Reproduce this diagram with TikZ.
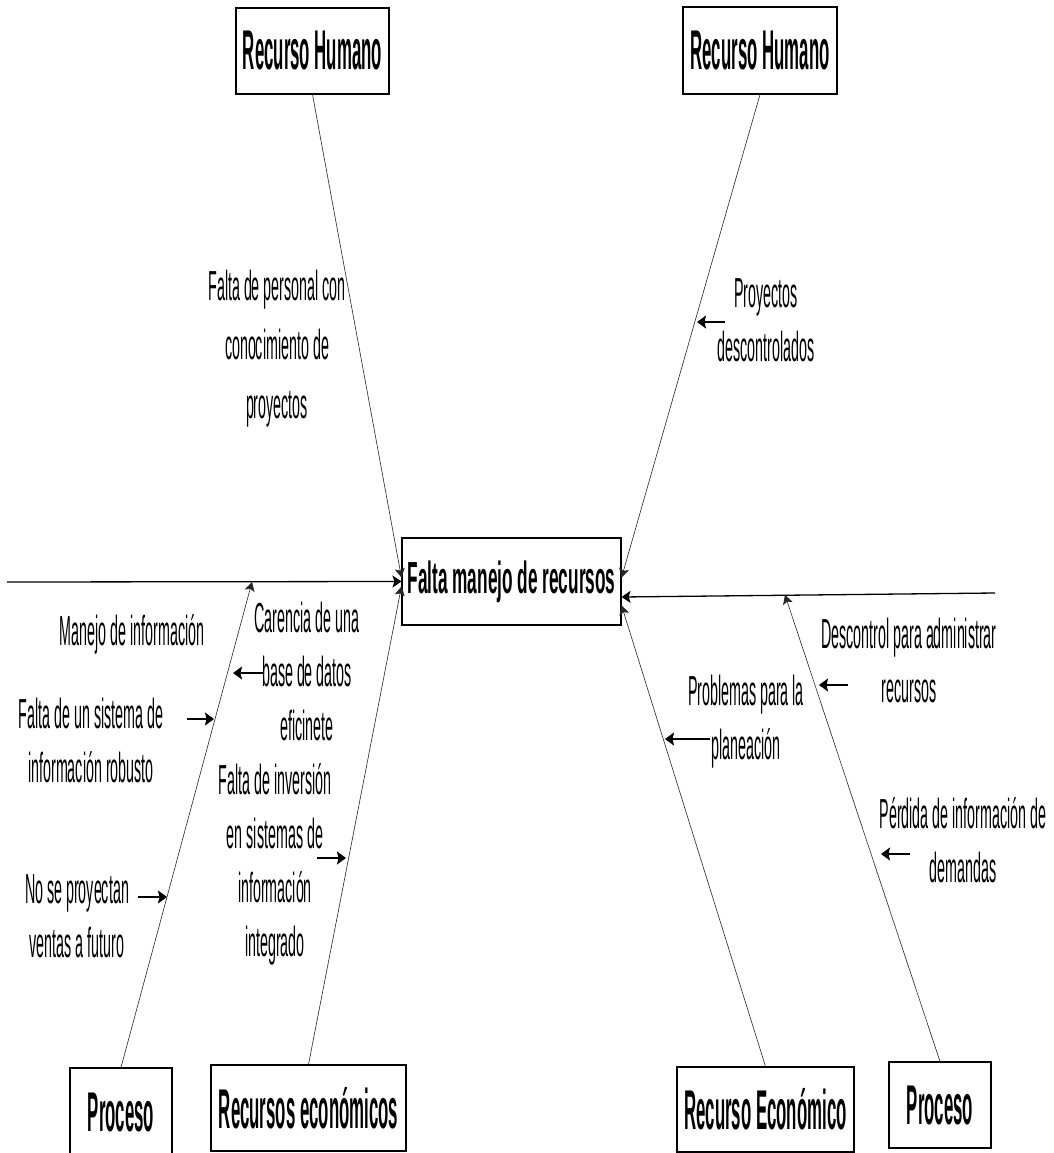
\documentclass[tikz,border=0pt]{standalone}
\usepackage{fontspec}
\setmainfont{Liberation Sans}
% narrow faces used throughout the diagram
\newfontfamily\condfont[FakeStretch=0.34]{Liberation Sans}
\newfontfamily\condboldfont[FakeStretch=0.30]{Liberation Sans}
\newfontfamily\headfont[FakeStretch=0.383]{Liberation Sans}
\usetikzlibrary{arrows.meta}

\begin{document}
\begin{tikzpicture}[x=1pt,y=-1pt,
  catbox/.style={draw, line width=1.1pt, inner sep=0pt,
    font=\condboldfont\bfseries\fontsize{56}{62}\selectfont},
  effectbox/.style={draw, line width=1.1pt, inner sep=0pt,
    minimum width=219pt, minimum height=87pt,
    font=\headfont\bfseries\fontsize{45}{50}\selectfont},
  % cause texts are placed by the baseline of their last line
  cause/.style={align=center, anchor=base, inner sep=0pt,
    font=\condfont\fontsize{42}{54}\selectfont},
  spine/.style={line width=1.3pt, -{Stealth[length=9pt,width=12pt,inset=2pt]}},
  bone/.style={line width=0.6pt, black!85, -{Stealth[length=9pt,width=10pt,inset=2pt]}},
  subarrow/.style={line width=1.2pt, -{Stealth[length=9pt,width=13pt,inset=1.5pt]}},
]
\useasboundingbox[fill=white] (0,0) rectangle (1054,1153);

% effect and category boxes
\node[effectbox] (ctr) at (511.5,581.5) {Falta manejo de recursos};
\node[catbox, minimum width=153pt, minimum height=86pt] (rhL) at (312.5,51) {Recurso Humano};
\node[catbox, minimum width=154pt, minimum height=87pt] (rhR) at (760,50.5) {Recurso Humano};
\node[catbox, minimum width=102pt, minimum height=88pt] (prL) at (121,1112) {Proceso};
\node[catbox, minimum width=195pt, minimum height=86pt] (ecL) at (308.5,1108) {Recursos económicos};
\node[catbox, minimum width=177pt, minimum height=85pt] (ecR) at (765.5,1109.5) {Recurso Económico};
\node[catbox, minimum width=102pt, minimum height=86pt] (prR) at (940,1105) {Proceso};

% main spine
\coordinate (tailL) at (7,582);
\coordinate (tailR) at (995,593);
\draw[spine] (tailL) -- (ctr.west);
\draw[spine] (tailR) -- ([yshift=-15.5pt]ctr.east);

% joints of the process bones on the spine
\coordinate (jL) at (252,582);
\coordinate (jR) at (785,595);

% category bones
\draw[bone] (rhL.south) -- ([yshift=4pt]ctr.west);
\draw[bone] (rhR.south) -- ([yshift=4pt]ctr.east);
\draw[bone] (ecL.north) -- ([yshift=-5pt]ctr.west);
\draw[bone] (ecR.north) -- ([yshift=-24pt]ctr.east);
\draw[bone] (prL.north) -- (jL);
\draw[bone] (prR.north) -- (jR);

% causes
\node[cause, font=\condfont\fontsize{42}{59}\selectfont] (c1) at (277,418) {Falta de personal con\\conocimiento de\\proyectos};
\node[cause] (c2) at (766,361) {Proyectos\\descontrolados};
\node[cause] (c3) at (132,645) {Manejo de información};
\node[cause] (c4) at (91,782) {Falta de un sistema de\\información robusto};
\node[cause] (c5) at (307,740) {Carencia de una\\base de datos\\eficinete};
\node[cause] (c6) at (275,956) {Falta de inversión\\en sistemas de\\información\\integrado};
\node[cause] (c7) at (77,957) {No se proyectan\\ventas a futuro};
\node[cause] (c8) at (746,759) {Problemas para la\\planeación};
\node[cause] (c9) at (909,702) {Descontrol para administrar\\recursos};
\node[cause] (c10) at (963,882) {Pérdida de información de\\demandas};

% arrows from the causes to their bones
\coordinate (s2) at (725,322);  \coordinate (e2) at (697,322);
\coordinate (s5) at (263,673);  \coordinate (e5) at (233,673);
\coordinate (s4) at (187,719);  \coordinate (e4) at (214,719);
\coordinate (s6) at (317,858);  \coordinate (e6) at (346,858);
\coordinate (s7) at (138,897);  \coordinate (e7) at (167,897);
\coordinate (s8) at (710,739);  \coordinate (e8) at (665,739);
\coordinate (s9) at (848,685);  \coordinate (e9) at (819,685);
\coordinate (s10) at (910,854); \coordinate (e10) at (881,854);
\foreach \i in {2,4,5,6,7,8,9,10}
  \draw[subarrow] (s\i) -- (e\i);
\end{tikzpicture}
\end{document}
